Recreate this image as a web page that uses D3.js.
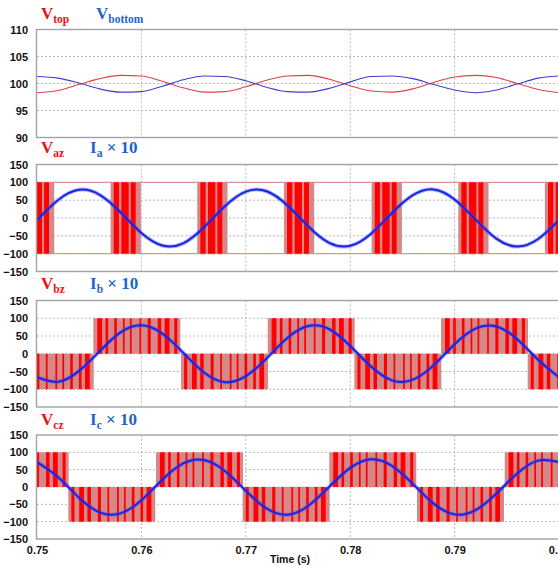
<!DOCTYPE html>
<html>
<head>
<meta charset="utf-8">
<script src="https://cdn.jsdelivr.net/npm/d3@7"></script>
<style>
  html, body { margin: 0; padding: 0; background: #fff; }
  svg { display: block; }
</style>
</head>
<body>
<div id="chart"></div>
<script>
// ---- data ----
const timeTicks = [0.75, 0.76, 0.77, 0.78, 0.79, 0.80];
const dcTicks = [90, 95, 100, 105, 110];
const acTicks = [-150, -100, -50, 0, 50, 100, 150];

const sampleTimes = [0.750, 0.752, 0.754, 0.756, 0.758, 0.760, 0.762, 0.764, 0.766, 0.768,
  0.770, 0.772, 0.774, 0.776, 0.778, 0.780, 0.782, 0.784, 0.786, 0.788,
  0.790, 0.792, 0.794, 0.796, 0.798, 0.800];

const vTop = [98.3, 98.7, 99.8, 100.9, 101.5, 101.4, 100.4, 99.2, 98.4, 98.5,
  99.4, 100.6, 101.4, 101.5, 100.8, 99.6, 98.6, 98.4, 99.0, 100.2,
  101.2, 101.5, 101.1, 100.0, 98.9, 98.3];
const vBottom = [101.3, 101.0, 100.1, 99.0, 98.4, 98.5, 99.5, 100.7, 101.4, 101.3,
  100.5, 99.3, 98.5, 98.4, 99.1, 100.3, 101.3, 101.4, 100.9, 99.8,
  98.8, 98.3, 98.8, 99.9, 101.0, 101.4];

// phase currents x 10
const iA = [-6, 50, 79, 65, 16, -42, -77, -71, -26, 33,
  74, 75, 35, -24, -70, -78, -44, 14, 64, 80,
  52, -4, -58, -80, -59, -6];
const iB = [-66, -79, -49, 7, 60, 80, 57, 3, -53, -80,
  -63, -13, 45, 78, 69, 22, -36, -75, -73, -32,
  27, 71, 77, 41, -17, -66];
const iC = [72, 29, -30, -73, -76, -38, 21, 68, 78, 46,
  -11, -62, -80, -54, 1, 55, 80, 61, 9, -48,
  -79, -67, -19, 39, 76, 72];

// Vaz: bipolar switching bursts around the current zero crossings
const vazCenters = [0.7502, 0.7585, 0.7668, 0.7751, 0.7835, 0.7918, 0.8001];
const vazHalfWidth = 0.00145;
const vazBars = [[-0.00115, -0.00065], [-0.00042, 0.00028], [0.00048, 0.00095]];
const vazLevel = 100;

// Vbz / Vcz: half-cycle blocks (start time, sign)
const halfCycle = 0.00833;
const vbzStarts = [0.7471, 0.7554, 0.7638, 0.7721, 0.7804, 0.7887, 0.7970];
const vbzSigns = [-1, 1, -1, 1, -1, 1, -1];
const vczStarts = [0.7447, 0.7530, 0.7614, 0.7697, 0.7780, 0.7864, 0.7948];
const vczSigns = [1, -1, 1, -1, 1, -1, 1];
const blockLevel = 100;
// bright pulses inside a half-cycle block, as fractions of the block
const pulseBars = [[0.045, 0.10], [0.14, 0.17], [0.24, 0.27], [0.34, 0.36], [0.42, 0.44],
  [0.53, 0.55], [0.625, 0.66], [0.74, 0.78], [0.82, 0.875], [0.93, 0.965]];

// ---- layout ----
const W = 558, H = 565;
const left = 37, right = 559;
const panels = [
  { top: 29.5, bottom: 137.5, domain: [90, 110], ticks: dcTicks, labelY: 19 },
  { top: 164.5, bottom: 271.5, domain: [-150, 150], ticks: acTicks, labelY: 153 },
  { top: 300.5, bottom: 407, domain: [-150, 150], ticks: acTicks, labelY: 289 },
  { top: 435, bottom: 539, domain: [-150, 150], ticks: acTicks, labelY: 425 }
];

const RED = '#ee1111', BLUE = '#1d66cc';
const PINK = '#d68787', BRIGHT = '#ff0000';
const CUR = '#1c22e0';

const svg = d3.select('#chart').append('svg')
  .attr('width', W).attr('height', H)
  .attr('viewBox', `0 0 ${W} ${H}`);

const x = d3.scaleLinear().domain([0.75, 0.80]).range([left, right]);

const defs = svg.append('defs');

panels.forEach((p, i) => {
  p.y = d3.scaleLinear().domain(p.domain).range([p.bottom, p.top]);
  p.g = svg.append('g');
  defs.append('clipPath').attr('id', 'clip' + i)
    .append('rect')
    .attr('x', left).attr('y', p.top)
    .attr('width', right - left).attr('height', p.bottom - p.top);

  // grid
  const grid = p.g.append('g');
  grid.selectAll('line.h')
    .data(p.ticks.slice(1, -1))
    .join('line')
    .attr('x1', left).attr('x2', right)
    .attr('y1', d => p.y(d)).attr('y2', d => p.y(d))
    .attr('stroke', '#b8b8b8').attr('stroke-dasharray', '2,2');
  grid.selectAll('line.v')
    .data(timeTicks.slice(1, -1))
    .join('line')
    .attr('x1', d => x(d)).attr('x2', d => x(d))
    .attr('y1', p.top).attr('y2', p.bottom)
    .attr('stroke', '#b8b8b8').attr('stroke-dasharray', '2,2');

  // y axis
  const ax = p.g.append('g')
    .attr('transform', `translate(${left},0)`)
    .call(d3.axisLeft(p.y).tickValues(p.ticks).tickSize(0).tickPadding(9));
  ax.select('.domain').remove();
  ax.selectAll('text')
    .attr('font-family', '"Liberation Sans", Arial, sans-serif')
    .attr('font-weight', 'bold').attr('font-size', 11).attr('fill', '#111');

  p.plot = p.g.append('g').attr('clip-path', `url(#clip${i})`);
});

// ---- panel 1: capacitor voltages ----
const lineDC = d3.line()
  .x((d, i) => x(sampleTimes[i]))
  .y(d => panels[0].y(d))
  .curve(d3.curveMonotoneX);

panels[0].plot.append('path').datum(vTop)
  .attr('d', lineDC).attr('fill', 'none')
  .attr('stroke', '#e0404c').attr('stroke-width', 1.1);
panels[0].plot.append('path').datum(vBottom)
  .attr('d', lineDC).attr('fill', 'none')
  .attr('stroke', '#3f3fce').attr('stroke-width', 1.1);

// ---- panel 2: Vaz bursts ----
const p2 = panels[1];
p2.plot.selectAll('line.lvl')
  .data([vazLevel, -vazLevel])
  .join('line')
  .attr('x1', left).attr('x2', right)
  .attr('y1', d => p2.y(d)).attr('y2', d => p2.y(d))
  .attr('stroke', '#e38080').attr('stroke-width', 1);

const burst = p2.plot.selectAll('g.burst')
  .data(vazCenters)
  .join('g');
burst.append('rect')
  .attr('x', c => x(c - vazHalfWidth))
  .attr('width', x(0.75 + 2 * vazHalfWidth) - x(0.75))
  .attr('y', p2.y(vazLevel))
  .attr('height', p2.y(-vazLevel) - p2.y(vazLevel))
  .attr('fill', PINK);
burst.selectAll('rect.bar')
  .data(c => vazBars.map(b => [c + b[0], c + b[1]]))
  .join('rect')
  .attr('class', 'bar')
  .attr('x', d => x(d[0]))
  .attr('width', d => x(d[1]) - x(d[0]))
  .attr('y', p2.y(vazLevel))
  .attr('height', p2.y(-vazLevel) - p2.y(vazLevel))
  .attr('fill', BRIGHT);

// ---- panels 3, 4: half-cycle blocks ----
function drawBlocks(p, starts, signs) {
  const blocks = p.plot.selectAll('g.block')
    .data(starts.map((s, i) => ({ s, e: s + halfCycle, sign: signs[i] })))
    .join('g');
  const yTop = d => p.y(Math.max(0, d.sign * blockLevel));
  const hgt = d => Math.abs(p.y(blockLevel) - p.y(0));
  blocks.append('rect')
    .attr('x', d => x(d.s))
    .attr('width', d => x(d.e) - x(d.s))
    .attr('y', yTop).attr('height', hgt)
    .attr('fill', PINK);
  blocks.selectAll('rect.bar')
    .data(d => pulseBars.map(b => {
      // mirror negative blocks so the pattern doesn't look stamped
      const f = d.sign > 0 ? b : [1 - b[1], 1 - b[0]];
      return { a: d.s + f[0] * halfCycle, b: d.s + f[1] * halfCycle };
    }))
    .join('rect')
    .attr('class', 'bar')
    .attr('x', d => x(d.a))
    .attr('width', d => x(d.b) - x(d.a))
    .attr('y', function () { return yTop(d3.select(this.parentNode).datum()); })
    .attr('height', hgt)
    .attr('fill', BRIGHT);
}
drawBlocks(panels[2], vbzStarts, vbzSigns);
drawBlocks(panels[3], vczStarts, vczSigns);

// ---- currents ----
[[1, iA], [2, iB], [3, iC]].forEach(([k, vals]) => {
  const p = panels[k];
  const line = d3.line()
    .x((d, i) => x(sampleTimes[i]))
    .y(d => p.y(d))
    .curve(d3.curveNatural);
  p.plot.append('path').datum(vals)
    .attr('d', line).attr('fill', 'none')
    .attr('stroke', '#3a4cff').attr('stroke-opacity', 0.4).attr('stroke-width', 4);
  p.plot.append('path').datum(vals)
    .attr('d', line).attr('fill', 'none')
    .attr('stroke', CUR).attr('stroke-width', 2);
});

// ---- frames ----
panels.forEach(p => {
  p.g.append('rect')
    .attr('x', left - 0.5).attr('y', p.top)
    .attr('width', right - left + 0.5).attr('height', p.bottom - p.top)
    .attr('fill', 'none').attr('stroke', '#a3a3a3').attr('stroke-width', 1.4);
});

// ---- x axis (bottom panel only) ----
const xa = svg.append('g')
  .attr('transform', `translate(0,${panels[3].bottom})`)
  .call(d3.axisBottom(x).tickValues(timeTicks).tickFormat(d3.format('.2f')).tickSize(0).tickPadding(7));
xa.select('.domain').remove();
xa.selectAll('text')
  .attr('font-family', '"Liberation Sans", Arial, sans-serif')
  .attr('font-weight', 'bold').attr('font-size', 11).attr('fill', '#111');

svg.append('text')
  .attr('x', 290).attr('y', 563)
  .attr('text-anchor', 'middle')
  .attr('font-family', '"Liberation Sans", Arial, sans-serif')
  .attr('font-weight', 'bold').attr('font-size', 10.5).attr('fill', '#111')
  .text('Time (s)');

// ---- panel labels ----
function label(xPos, yPos, main, sub, tail, color) {
  const t = svg.append('text')
    .attr('x', xPos).attr('y', yPos)
    .attr('font-family', '"Liberation Serif", "Times New Roman", serif')
    .attr('font-weight', 'bold').attr('fill', color);
  t.append('tspan').attr('font-size', 17).text(main);
  t.append('tspan').attr('font-size', 11.5).attr('dy', 4).text(sub);
  if (tail) t.append('tspan').attr('font-size', 17).attr('dy', -4).text(tail);
}
label(41, panels[0].labelY, 'V', 'top', null, RED);
label(96, panels[0].labelY, 'V', 'bottom', null, BLUE);
const phases = ['a', 'b', 'c'];
phases.forEach((ph, i) => {
  const y = panels[i + 1].labelY;
  label(41, y, 'V', ph + 'z', null, RED);
  label(90, y, 'I', ph, ' \u00d7 10', BLUE);
});
</script>
</body>
</html>
